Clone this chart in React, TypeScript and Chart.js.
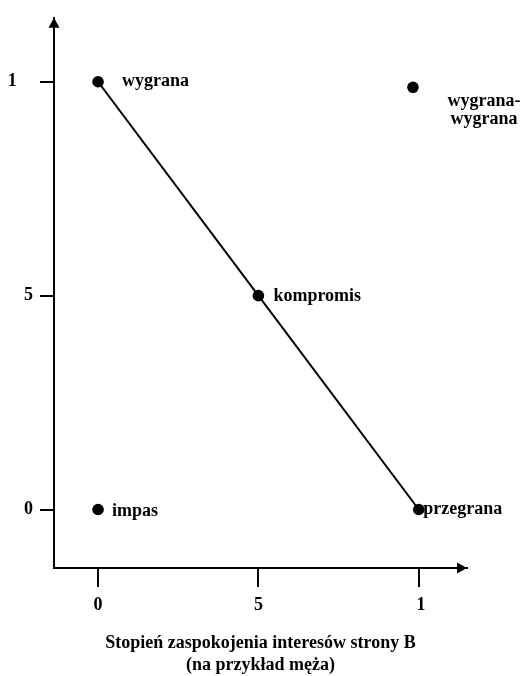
import React, { useEffect, useRef } from "react";
import { Chart, registerables } from "chart.js";

Chart.register(...registerables);

// ---- data ----
const lineLabels = ["wygrana", "kompromis", "przegrana"];
const lineX = [0, 5, 10];
const lineY = [10, 5, 0];
const soloLabels = ["impas", "wygrana-\nwygrana"];
const soloX = [0, 9.82];
const soloY = [0, 9.87];
const tickValues = [0, 5, 10];
const xTickLabels = ["0", "5", " 1"];
const yTickLabels = ["0", "5", "1\u2002\u2009\u2009"];
const xTitle = ["Stopień zaspokojenia interesów strony B", "(na przykład męża)"];

// ---- styles ----
const FONT = '"Liberation Serif", "Times New Roman", serif';
const lineLabelOffsets = [
  { dx: 24, dy: 4, align: "left" },
  { dx: 15, dy: 5, align: "left" },
  { dx: 4.5, dy: 4, align: "left" },
];
const soloLabelOffsets = [
  { dx: 14, dy: 6, align: "left" },
  { dx: 71, dy: 19, align: "center" },
];

const labelPlugin = {
  id: "pointTextLabels",
  afterDatasetsDraw(chart: any) {
    const ctx = chart.ctx;
    ctx.save();
    ctx.font = `bold 18px ${FONT}`;
    ctx.fillStyle = "#000";
    ctx.textBaseline = "alphabetic";
    chart.data.datasets.forEach((ds: any, di: number) => {
      const meta = chart.getDatasetMeta(di);
      meta.data.forEach((pt: any, i: number) => {
        const text: string = ds.textLabels[i];
        const off = ds.textOffsets[i];
        ctx.textAlign = off.align;
        text.split("\n").forEach((line: string, li: number) => {
          ctx.fillText(line, pt.x + off.dx, pt.y + off.dy + li * 18);
        });
      });
    });
    ctx.restore();
  },
};

const arrowPlugin = {
  id: "axisArrows",
  afterDraw(chart: any) {
    const { ctx, chartArea } = chart;
    const { left, top, right, bottom } = chartArea;
    ctx.save();
    ctx.fillStyle = "#000";
    ctx.beginPath();
    ctx.moveTo(left, top);
    ctx.lineTo(left - 5.5, top + 10);
    ctx.lineTo(left + 5.5, top + 10);
    ctx.closePath();
    ctx.fill();
    ctx.beginPath();
    ctx.moveTo(right, bottom);
    ctx.lineTo(right - 10, bottom - 5.5);
    ctx.lineTo(right - 10, bottom + 5.5);
    ctx.closePath();
    ctx.fill();
    ctx.restore();
  },
};

export default function App() {
  const ref = useRef<HTMLCanvasElement | null>(null);

  useEffect(() => {
    if (!ref.current) return;
    const setTicks = (scale: any) => {
      scale.ticks = tickValues.map((v) => ({ value: v }));
    };
    const chart = new Chart(ref.current, {
      type: "scatter",
      data: {
        datasets: [
          {
            data: lineX.map((x, i) => ({ x, y: lineY[i] })),
            showLine: true,
            borderColor: "#000",
            borderWidth: 2,
            pointRadius: 5.8,
            pointBackgroundColor: "#000",
            pointBorderWidth: 0,
            textLabels: lineLabels,
            textOffsets: lineLabelOffsets,
          } as any,
          {
            data: soloX.map((x, i) => ({ x, y: soloY[i] })),
            showLine: false,
            pointRadius: 5.8,
            pointBackgroundColor: "#000",
            pointBorderWidth: 0,
            textLabels: soloLabels,
            textOffsets: soloLabelOffsets,
          } as any,
        ],
      },
      options: {
        animation: false,
        responsive: false,
        devicePixelRatio: 1,
        layout: { padding: { top: 13, right: 54, left: 0, bottom: 0 } },
        plugins: { legend: { display: false }, tooltip: { enabled: false } },
        scales: {
          x: {
            type: "linear",
            min: -1.374,
            max: 11.505,
            afterBuildTicks: setTicks,
            afterFit: (s: any) => {
              s.height = 108;
            },
            grid: {
              display: true,
              drawOnChartArea: false,
              drawTicks: true,
              tickLength: 19,
              color: "#000",
              lineWidth: 2,
            },
            border: { display: true, color: "#000", width: 2 },
            ticks: {
              padding: 8,
              color: "#000",
              font: { family: FONT, size: 18, weight: "bold" },
              callback: (_v: any, i: number) => xTickLabels[i],
            },
            title: {
              display: true,
              text: xTitle,
              color: "#000",
              font: { family: FONT, size: 18, weight: "bold" },
              padding: { top: 0, bottom: 0 },
            },
          },
          y: {
            type: "linear",
            min: -1.367,
            max: 11.495,
            afterBuildTicks: setTicks,
            afterFit: (s: any) => {
              s.width = 54;
            },
            grid: {
              display: true,
              drawOnChartArea: false,
              drawTicks: true,
              tickLength: 14,
              color: "#000",
              lineWidth: 2,
            },
            border: { display: true, color: "#000", width: 2 },
            ticks: {
              padding: 7,
              color: "#000",
              font: { family: FONT, size: 18, weight: "bold" },
              callback: (_v: any, i: number) => yTickLabels[i],
            },
          },
        },
      } as any,
      plugins: [labelPlugin, arrowPlugin],
    });
    return () => chart.destroy();
  }, []);

  return (
    <div style={{ position: "absolute", left: 0, top: 0, width: 521, height: 676, background: "#fff" }}>
      <canvas ref={ref} width={521} height={676} style={{ display: "block" }} />
    </div>
  );
}
